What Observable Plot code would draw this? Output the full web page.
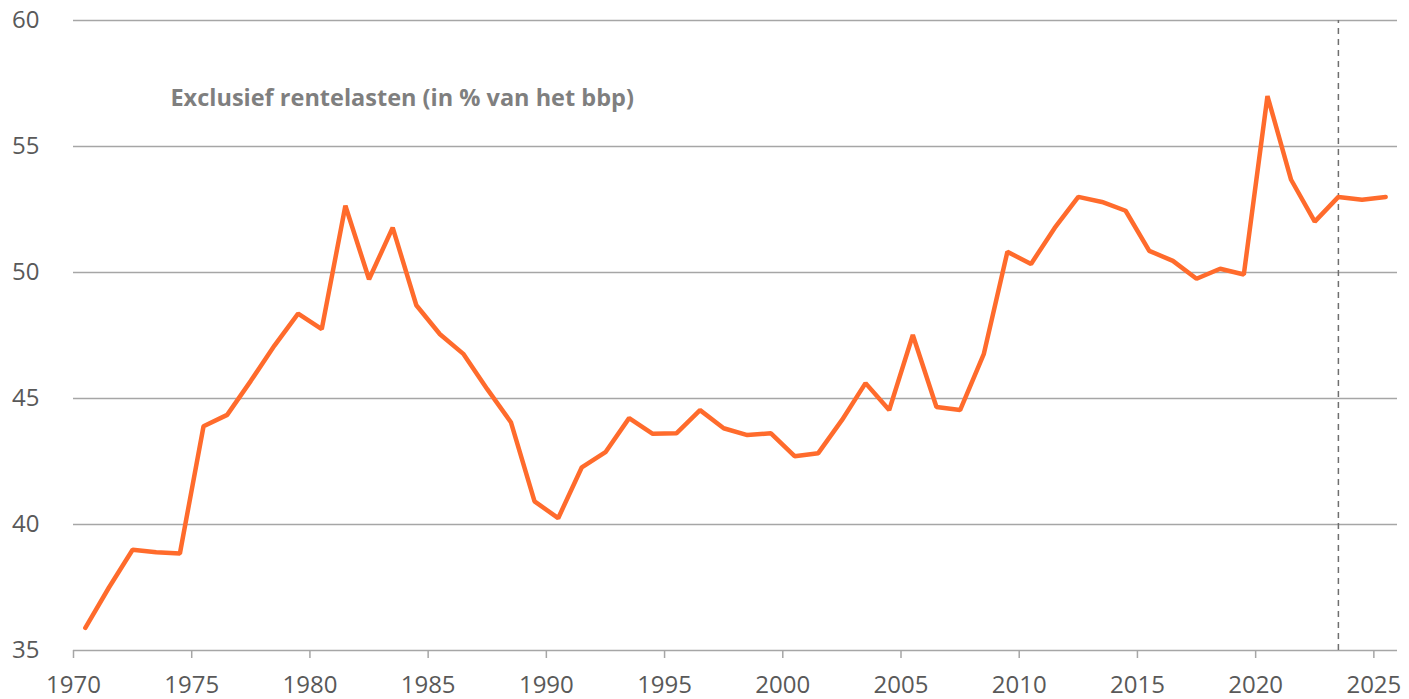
<!DOCTYPE html>
<html>
<head>
<meta charset="utf-8">
<script src="https://cdn.jsdelivr.net/npm/d3@7"></script>
<script src="https://cdn.jsdelivr.net/npm/@observablehq/plot@0.6"></script>
<style>
  html, body { margin: 0; padding: 0; background: #fff; }
  #chart svg { display: block; }
</style>
</head>
<body>
<div id="chart"></div>
<script>
const years = [
  1970.5, 1971.5, 1972.5, 1973.5, 1974.5, 1975.5, 1976.5, 1977.5, 1978.5, 1979.5,
  1980.5, 1981.5, 1982.5, 1983.5, 1984.5, 1985.5, 1986.5, 1987.5, 1988.5, 1989.5,
  1990.5, 1991.5, 1992.5, 1993.5, 1994.5, 1995.5, 1996.5, 1997.5, 1998.5, 1999.5,
  2000.5, 2001.5, 2002.5, 2003.5, 2004.5, 2005.5, 2006.5, 2007.5, 2008.5, 2009.5,
  2010.5, 2011.5, 2012.5, 2013.5, 2014.5, 2015.5, 2016.5, 2017.5, 2018.5, 2019.5,
  2020.5, 2021.5, 2022.5, 2023.5, 2024.5, 2025.5
];
const values = [
  35.9, 37.5, 39.0, 38.9, 38.85, 43.9, 44.35, 45.7, 47.1, 48.37,
  47.75, 52.65, 49.73, 51.78, 48.7, 47.55, 46.76, 45.37, 44.06, 40.92,
  40.25, 42.27, 42.87, 44.22, 43.6, 43.62, 44.54, 43.82, 43.55, 43.62,
  42.71, 42.83, 44.14, 45.61, 44.54, 47.52, 44.66, 44.54, 46.76, 50.82,
  50.34, 51.77, 53.0, 52.8, 52.45, 50.86, 50.46, 49.75, 50.15, 49.92,
  57.0, 53.68, 52.02, 53.0, 52.89, 53.0
];
const xTicks = [1970, 1975, 1980, 1985, 1990, 1995, 2000, 2005, 2010, 2015, 2020, 2025];
const yTicks = [35, 40, 45, 50, 55, 60];
const gridValues = [40, 45, 50, 55, 60];
const forecastStart = [2023.5];
const labelText = ["Exclusief rentelasten (in % van het bbp)"];

const data = years.map((y, i) => ({year: y, value: values[i]}));

const chart = Plot.plot({
  width: 1409,
  height: 699,
  marginLeft: 73,
  marginRight: 12,
  marginTop: 20,
  marginBottom: 49,
  style: {fontFamily: "'Open Sans', sans-serif", background: "#fff", overflow: "visible"},
  x: {domain: [1970, 2026]},
  y: {domain: [35, 60]},
  marks: [
    Plot.ruleY(gridValues, {stroke: "#a6a6a6", strokeWidth: 1.5}),
    Plot.ruleY([35], {stroke: "#a6a6a6", strokeWidth: 1.5}),
    Plot.ruleX(forecastStart, {y1: 35, y2: 60, stroke: "#6f6f6f", strokeWidth: 1.5, strokeDasharray: "6,5"}),
    Plot.axisX({ticks: xTicks, tickSize: 8, tickPadding: 17, tickFormat: d => String(d), fontSize: 24, stroke: "#a6a6a6", strokeWidth: 1.5, color: "#595959", label: null, strokeOpacity: 1}),
    Plot.axisY({ticks: yTicks, tickSize: 0, tickPadding: 34, fontSize: 24, color: "#595959", label: null}),
    Plot.line(data, {x: "year", y: "value", stroke: "#ff6b2c", strokeWidth: 4.5, strokeLinejoin: "miter", strokeLinecap: "round"}),
    Plot.text(labelText, {x: 1974.1, y: 56.9, text: d => d, textAnchor: "start", fontSize: 23.5, fontWeight: "bold", fill: "#7f7f7f"})
  ]
});
document.getElementById("chart").appendChild(chart);
</script>
</body>
</html>
